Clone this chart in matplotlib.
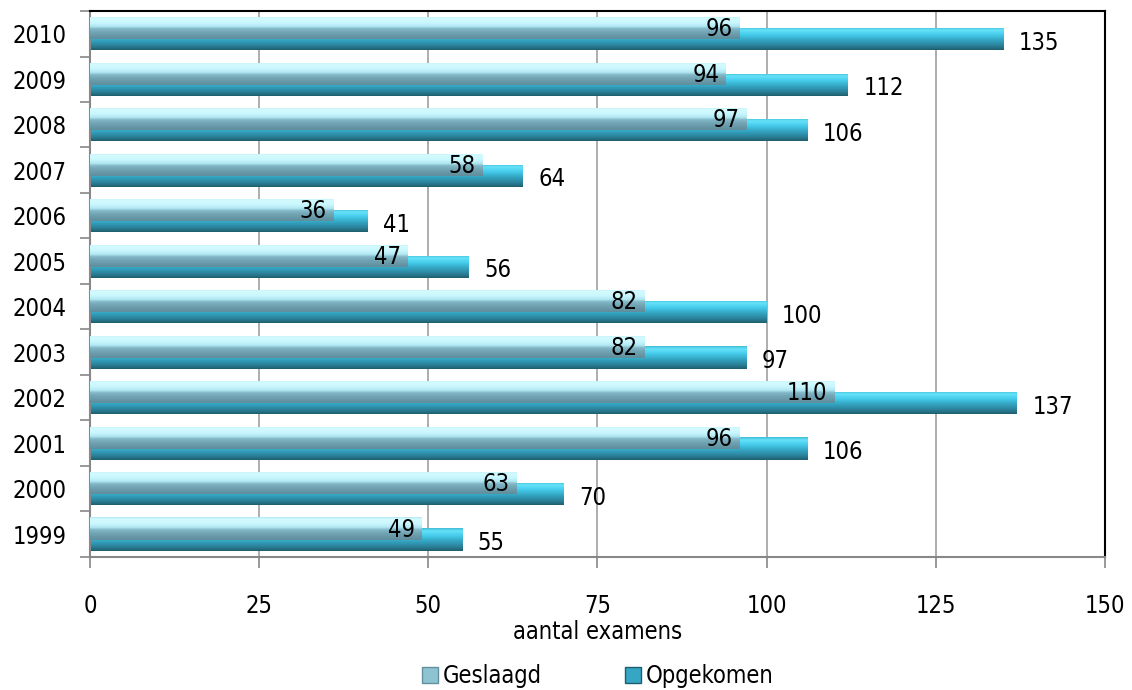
import numpy as np
import matplotlib.pyplot as plt
from matplotlib.colors import LinearSegmentedColormap
from matplotlib.patches import Patch

# gegevens (van onder naar boven)
jaren = ['1999', '2000', '2001', '2002', '2003', '2004', '2005', '2006', '2007', '2008', '2009', '2010']
geslaagd = [49, 63, 96, 110, 82, 82, 47, 36, 58, 97, 94, 96]
opgekomen = [55, 70, 106, 137, 97, 100, 56, 41, 64, 106, 112, 135]

plt.rcParams['font.family'] = ['DejaVu Sans']
plt.rcParams['font.stretch'] = 'condensed'

# kleurverlopen (onder -> boven)
cmap_geslaagd = LinearSegmentedColormap.from_list('geslaagd', [
    (0.0, '#5f8d9c'), (0.3, '#73a5b5'), (0.45, '#84b9c8'),
    (0.55, '#b0e6f1'), (0.7, '#c8f6fd'), (0.92, '#d4fbff'), (1.0, '#b2e8f0')])
cmap_opgekomen = LinearSegmentedColormap.from_list('opgekomen', [
    (0.0, '#1f5e6e'), (0.18, '#2a8098'), (0.45, '#35a8c6'),
    (0.7, '#48cfee'), (0.88, '#66e2f8'), (1.0, '#40bcd8')])
grad = np.linspace(0, 1, 64).reshape(-1, 1)

fig = plt.figure(figsize=(11.32, 6.9), dpi=100)
ax = fig.add_axes([0.0795, 0.193, 0.8965, 0.791])

y = np.arange(len(jaren))
hoogte = 0.49
off = 0.12


def verloop_balken(waarden, pos, cmap, z):
    bars = ax.barh(pos, waarden, height=hoogte, facecolor='none', edgecolor='none', zorder=z)
    for b in bars:
        x0, y0 = b.get_x(), b.get_y()
        im = ax.imshow(grad, extent=(x0, x0 + b.get_width(), y0, y0 + b.get_height()),
                       aspect='auto', cmap=cmap, origin='lower', zorder=z,
                       interpolation='bilinear')
        im.set_clip_path(b)
    return bars


# schaduw onder de balken
ax.barh(y - off - 0.09, opgekomen, height=hoogte * 0.6, color='#e0e0e0', zorder=1.5)
verloop_balken(opgekomen, y - off, cmap_opgekomen, 2)
verloop_balken(geslaagd, y + off, cmap_geslaagd, 3)

for i in range(len(jaren)):
    ax.text(geslaagd[i] - 1.0, y[i] + off - 0.02, str(geslaagd[i]), ha='right', va='center',
            fontsize=17, zorder=5)
    ax.text(opgekomen[i] + 2.3, y[i] - off - 0.08, str(opgekomen[i]), ha='left', va='center',
            fontsize=17, zorder=5)

ax.set_xlim(0, 150)
ax.set_ylim(-0.5, len(jaren) - 0.5)
ax.set_xticks(np.arange(0, 151, 25))
ax.set_xticklabels([str(v) for v in range(0, 151, 25)], fontsize=17)
ax.set_yticks(y)
ax.set_yticklabels(jaren, fontsize=17)
ax.set_yticks(np.arange(-0.5, len(jaren), 1), minor=True)
ax.tick_params(axis='y', which='major', length=0, pad=17)
ax.tick_params(axis='y', which='minor', length=7, color='#888888', width=1.2, direction='out')
ax.tick_params(axis='x', length=8, color='#888888', width=1.2, direction='out', pad=19)
ax.xaxis.grid(True, color='#a0a0a0', linewidth=1.2)
ax.set_axisbelow(True)

for s in ['top', 'right']:
    ax.spines[s].set_color('black')
    ax.spines[s].set_linewidth(1.5)
for s in ['left', 'bottom']:
    ax.spines[s].set_color('#888888')
    ax.spines[s].set_linewidth(1.5)

ax.set_xlabel('aantal examens', fontsize=17, labelpad=1)

handles = [Patch(facecolor='#8ec4d2', edgecolor='#62909f', label='Geslaagd'),
           Patch(facecolor='#35a6c4', edgecolor='#1f5e6e', label='Opgekomen')]
fig.legend(handles=handles, loc='center', bbox_to_anchor=(0.528, 0.02), ncol=2,
           frameon=False, fontsize=17, handlelength=0.7, handleheight=0.7,
           handletextpad=0.2, columnspacing=3.5)

fig.savefig('out.png', dpi=100)
